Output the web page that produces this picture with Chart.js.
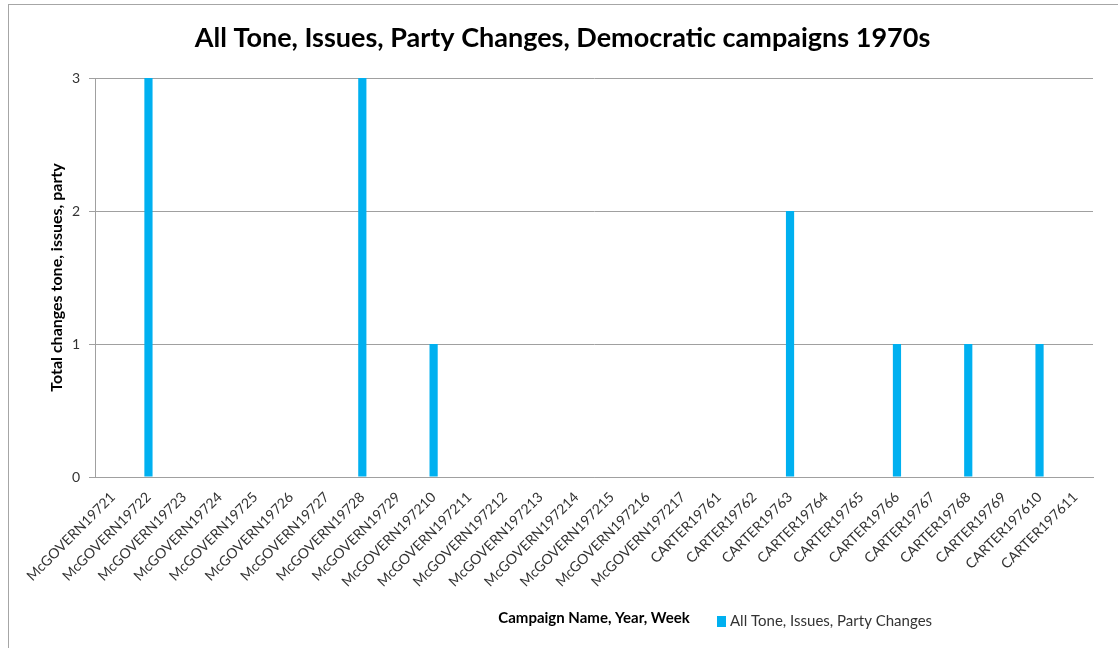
<!DOCTYPE html>
<html>
<head>
<meta charset="utf-8">
<title>All Tone, Issues, Party Changes, Democratic campaigns 1970s</title>
<script src="https://cdn.jsdelivr.net/npm/chart.js@4/dist/chart.umd.min.js"></script>
<style>
  html, body { margin: 0; padding: 0; background: #ffffff; }
  #wrap { position: relative; width: 1118px; height: 648px; }
</style>
</head>
<body>
<div id="wrap"><canvas id="chart" width="1118" height="648"></canvas></div>
<script>
// Weekly campaign identifiers (candidate, year, week)
const campaignWeeks = [
  'McGOVERN19721', 'McGOVERN19722', 'McGOVERN19723', 'McGOVERN19724', 'McGOVERN19725',
  'McGOVERN19726', 'McGOVERN19727', 'McGOVERN19728', 'McGOVERN19729', 'McGOVERN197210',
  'McGOVERN197211', 'McGOVERN197212', 'McGOVERN197213', 'McGOVERN197214', 'McGOVERN197215',
  'McGOVERN197216', 'McGOVERN197217',
  'CARTER19761', 'CARTER19762', 'CARTER19763', 'CARTER19764', 'CARTER19765', 'CARTER19766',
  'CARTER19767', 'CARTER19768', 'CARTER19769', 'CARTER197610', 'CARTER197611'
];

// Total number of tone / issue / party changes in each week
const totalChanges = [
  0, 3, 0, 0, 0, 0, 0, 3, 0, 1,
  0, 0, 0, 0, 0, 0, 0,
  0, 0, 2, 0, 0, 1, 0, 1, 0, 1, 0
];

const yTicks = [0, 1, 2, 3];

const seriesName = 'All Tone, Issues, Party Changes';
const chartTitle = 'All Tone, Issues, Party Changes, Democratic campaigns 1970s';
const xTitle = 'Campaign Name, Year, Week';
const yTitle = 'Total changes tone, issues, party';

const FONT = "Lato, 'Open Sans', 'Liberation Sans', sans-serif";
const BAR_COLOR = '#00b0f0';
const TEXT_COLOR = '#333333';

// Thin frame around the chart object
const framePlugin = {
  id: 'frame',
  beforeDraw(chart) {
    const ctx = chart.ctx;
    ctx.save();
    ctx.fillStyle = '#ffffff';
    ctx.fillRect(0, 0, chart.width, chart.height);
    ctx.strokeStyle = '#a6a6a6';
    ctx.lineWidth = 1;
    ctx.strokeRect(8.5, 4.5, 1300, 800);
    ctx.restore();
  }
};

// Legend sitting on the same row as the x axis title
const inlineLegend = {
  id: 'inlineLegend',
  afterDraw(chart) {
    const ctx = chart.ctx;
    const ds = chart.data.datasets[0];
    ctx.save();
    ctx.fillStyle = ds.backgroundColor;
    ctx.fillRect(717, 616, 9, 11);
    ctx.fillStyle = TEXT_COLOR;
    ctx.font = "15px " + FONT;
    ctx.textBaseline = 'middle';
    ctx.textAlign = 'left';
    ctx.fillText(ds.label, 730, 621);
    ctx.restore();
  }
};

new Chart(document.getElementById('chart'), {
  type: 'bar',
  data: {
    labels: campaignWeeks,
    datasets: [{
      label: seriesName,
      data: totalChanges,
      backgroundColor: BAR_COLOR,
      borderWidth: 0,
      barPercentage: 0.23,
      categoryPercentage: 1.0
    }]
  },
  options: {
    responsive: false,
    animation: false,
    devicePixelRatio: 1,
    layout: { padding: { left: 7, right: 0, top: 0, bottom: 0 } },
    plugins: {
      legend: { display: false },
      tooltip: { enabled: false },
      title: {
        display: true,
        text: chartTitle,
        color: '#000000',
        font: { family: FONT, size: 27, weight: 'bold', lineHeight: 1.2 },
        padding: { top: 22, bottom: 23.6 }
      }
    },
    scales: {
      x: {
        grid: { display: false },
        border: { display: true, color: '#a0a0a0', width: 1 },
        ticks: {
          autoSkip: false,
          maxRotation: 45,
          minRotation: 45,
          color: TEXT_COLOR,
          padding: 4,
          font: { family: FONT, size: 14 }
        },
        title: {
          display: true,
          text: xTitle,
          color: '#000000',
          font: { family: FONT, size: 15, weight: 'bold', lineHeight: 1.2 },
          padding: { top: 0, bottom: 21 }
        },
        afterFit(scale) { scale.height = 171; }
      },
      y: {
        min: 0,
        max: 3,
        afterBuildTicks(scale) { scale.ticks = yTicks.map(v => ({ value: v })); },
        grid: { color: '#a0a0a0', lineWidth: 1, drawTicks: true, tickLength: 6 },
        border: { display: true, color: '#a0a0a0', width: 1 },
        ticks: {
          color: TEXT_COLOR,
          padding: 9,
          font: { family: FONT, size: 14 }
        },
        title: {
          display: true,
          text: yTitle,
          color: '#000000',
          font: { family: FONT, size: 16, weight: 'bold', lineHeight: 1.2 },
          padding: { top: 40.4, bottom: 0 }
        },
        afterFit(scale) { scale.width = 88; }
      },
      // empty margin to the right of the plot area
      yMargin: {
        position: 'right',
        display: true,
        min: 0,
        max: 3,
        grid: { display: false, drawTicks: false },
        border: { display: false },
        ticks: { display: false },
        afterFit(scale) { scale.width = 25; }
      }
    }
  },
  plugins: [framePlugin, inlineLegend]
});
</script>
</body>
</html>
